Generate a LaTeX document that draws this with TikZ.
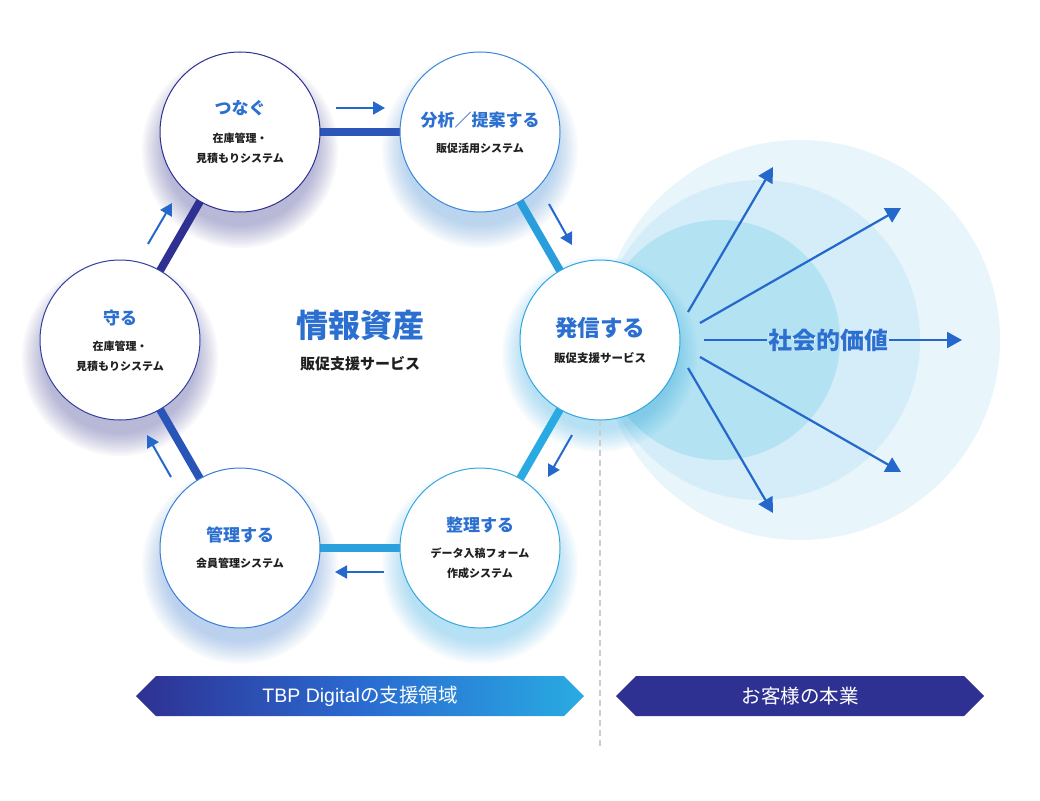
\documentclass[tikz,border=0pt]{standalone}
\usepackage{fontspec}
\setmainfont{Noto Sans CJK JP}
\newfontfamily\halofont{Noto Sans CJK JP}[FakeBold=5]
\newfontfamily\latinsans{Liberation Sans}
\usetikzlibrary{arrows.meta,calc}
\definecolor{navy}{HTML}{2E3192}
\definecolor{sky}{HTML}{29ABE2}
\definecolor{midblue}{HTML}{2A6AD0}
\definecolor{ttlblue}{HTML}{2B70D0}
\definecolor{arrblue}{HTML}{2468CC}
\definecolor{ringA}{HTML}{E8F6FC}
\definecolor{ringB}{HTML}{D4EDF8}
\definecolor{ringC}{HTML}{B3E2F3}
\definecolor{bdA}{HTML}{2E3192}
\definecolor{bdB}{HTML}{3A88D8}
\definecolor{bdC}{HTML}{2EA6DF}
\definecolor{bdD}{HTML}{35A8E0}
\definecolor{bdE}{HTML}{3A7ED6}
\definecolor{bdF}{HTML}{3440A0}
\definecolor{lnA}{HTML}{2B55B8}
\definecolor{lnB}{HTML}{2A9EDC}
\definecolor{lnC}{HTML}{29AAE2}
\definecolor{lnD}{HTML}{2AA0DD}
\definecolor{lnE}{HTML}{2A55B8}
\definecolor{dashgray}{HTML}{CCCCCC}
\pgfdeclarelayer{bg}
\pgfsetlayers{bg,main}
\newcommand\glowat[3]{%
  \foreach \k in {1,...,12}
    \fill[#2, fill opacity=0.03] ($(#1)+(0,#3)$) circle[radius=74pt+2pt*\k];}
\tikzset{
  hub/.style={circle, minimum size=160pt, inner sep=0pt, fill=white, line width=1pt},
  ttl/.style={text=ttlblue, font=\bfseries\fontsize{17}{20}\selectfont, inner sep=0pt},
  bigttl/.style={text=ttlblue, font=\bfseries\fontsize{22.5}{26}\selectfont, inner sep=0pt},
  subtxt/.style={text=black!88, font=\bfseries\fontsize{11}{20}\selectfont, align=center, inner sep=0pt},
  hexline/.style={line width=8pt},
  smallarrow/.style={arrblue, line width=2pt, -{Triangle[length=12pt,width=13pt]}},
  rayarrow/.style={arrblue, line width=2.2pt, -{Triangle[length=15pt,width=16pt]}},
  banner/.style={text=white, font=\fontsize{19.5}{22}\selectfont, inner sep=0pt}
}
\begin{document}
\begin{tikzpicture}[x=1pt,y=-1pt]
\useasboundingbox (0,0) rectangle (1040,800);

% centers
\coordinate (p1) at (240,132);
\coordinate (p2) at (480,132);
\coordinate (p3) at (600,340);
\coordinate (p4) at (480,548);
\coordinate (p5) at (240,548);
\coordinate (p6) at (120,340);

\begin{pgfonlayer}{bg}
\fill[white] (0,0) rectangle (1040,800);
% value rings
\fill[ringA] (800,340) circle[radius=200pt];
\fill[ringB] (760,340) circle[radius=160pt];
\fill[ringC] (720,340) circle[radius=120pt];
% glows
\glowat{p1}{navy}{18}
\glowat{p2}{bdB}{18}
\glowat{p3}{sky}{14}
\glowat{p4}{sky}{18}
\glowat{p5}{bdE}{18}
\glowat{p6}{navy}{18}
% hexagon links
\draw[hexline, navy] (p6) -- (p1);
\draw[hexline, lnA] (p1) -- (p2);
\draw[hexline, lnB] (p2) -- (p3);
\draw[hexline, lnC] (p3) -- (p4);
\draw[hexline, lnD] (p4) -- (p5);
\draw[hexline, lnE] (p5) -- (p6);
\end{pgfonlayer}

% dashed divider
\coordinate (d1) at (600,420);
\coordinate (d2) at (600,748);
\draw[dashgray, line width=1.5pt, dash pattern=on 6pt off 4pt] (d1) -- (d2);

% circles
\node[hub, draw=bdA] (c1) at (p1) {};
\node[hub, draw=bdB] (c2) at (p2) {};
\node[hub, draw=bdC] (c3) at (p3) {};
\node[hub, draw=bdD] (c4) at (p4) {};
\node[hub, draw=bdE] (c5) at (p5) {};
\node[hub, draw=bdF] (c6) at (p6) {};

% circle texts
\node[ttl] (t1) at ($(p1)+(0,-24)$) {つなぐ};
\node[subtxt] (s1) at ($(p1)+(0,16)$) {在庫管理・\\見積もりシステム};
\node[ttl] (t2) at ($(p2)+(0,-12)$) {分析／提案する};
\node[subtxt] (s2) at ($(p2)+(0,16)$) {販促活用システム};
\node[bigttl] (t3) at ($(p3)+(0,-12)$) {発信する};
\node[subtxt, font=\bfseries\fontsize{11.5}{20}\selectfont] (s3) at ($(p3)+(0,18)$) {販促支援サービス};
\node[ttl] (t4) at ($(p4)+(0,-23)$) {整理する};
\node[subtxt] (s4) at ($(p4)+(0,15)$) {データ入稿フォーム\\作成システム};
\node[ttl] (t5) at ($(p5)+(0,-13)$) {管理する};
\node[subtxt] (s5) at ($(p5)+(0,15)$) {会員管理システム};
\node[ttl] (t6) at ($(p6)+(0,-22)$) {守る};
\node[subtxt] (s6) at ($(p6)+(0,16)$) {在庫管理・\\見積もりシステム};

% center label
\node[text=ttlblue, font=\bfseries\fontsize{32}{36}\selectfont, inner sep=0pt] (core) at (360,325) {情報資産};
\node[text=black!88, font=\bfseries\fontsize{15}{18}\selectfont, inner sep=0pt] (coresub) at (360,364) {販促支援サービス};

% small flow arrows
\coordinate (a1s) at (336,108); \coordinate (a1e) at (385,108);
\coordinate (a2s) at (549,204); \coordinate (a2e) at (572,245);
\coordinate (a3s) at (572,435); \coordinate (a3e) at (548,477);
\coordinate (a4s) at (384,572); \coordinate (a4e) at (335,572);
\coordinate (a5s) at (171,477); \coordinate (a5e) at (147,435);
\coordinate (a6s) at (148,244); \coordinate (a6e) at (172,203);
\draw[smallarrow] (a1s) -- (a1e);
\draw[smallarrow] (a2s) -- (a2e);
\draw[smallarrow] (a3s) -- (a3e);
\draw[smallarrow] (a4s) -- (a4e);
\draw[smallarrow] (a5s) -- (a5e);
\draw[smallarrow] (a6s) -- (a6e);

% rays
\coordinate (r1s) at (688,312); \coordinate (r1e) at (773,167);
\coordinate (r2s) at (700,323); \coordinate (r2e) at (901,208);
\coordinate (r3s) at (704,340); \coordinate (r3e) at (962,340);
\coordinate (r4s) at (700,357); \coordinate (r4e) at (901,472);
\coordinate (r5s) at (688,368); \coordinate (r5e) at (773,513);
\draw[rayarrow] (r1s) -- (r1e);
\draw[rayarrow] (r2s) -- (r2e);
\draw[rayarrow] (r4s) -- (r4e);
\draw[rayarrow] (r5s) -- (r5e);
\node[text=white, font=\halofont\fontsize{24}{28}\selectfont, inner sep=0pt] (valhalo) at (828,340) {社会的価値};
\node[text=ttlblue, font=\bfseries\fontsize{24}{28}\selectfont, inner sep=0pt] (val) at (828,340) {社会的価値};
\draw[arrblue, line width=2.2pt] (r3s) -- ($(valhalo.west)+(-1,0)$);
\draw[rayarrow] ($(valhalo.east)+(1,0)$) -- (r3e);

% banners
\shade[left color=navy, right color=sky, middle color=midblue] (136,696) -- (156,676) -- (564,676) -- (584,696) -- (564,716) -- (156,716) -- cycle;
\node[banner] (b1) at (360,696) {{\latinsans TBP Digital}の支援領域};
\fill[navy] (616,696) -- (636,676) -- (964,676) -- (984,696) -- (964,716) -- (636,716) -- cycle;
\node[banner] (b2) at (800,696) {お客様の本業};
\end{tikzpicture}
\end{document}
